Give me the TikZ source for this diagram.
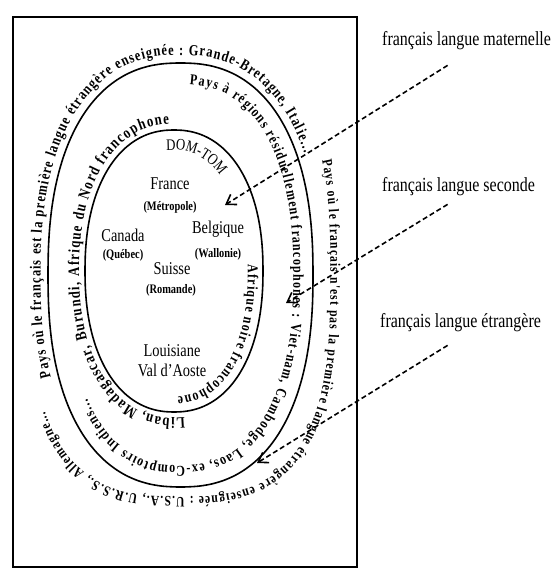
\documentclass[tikz,border=0pt]{standalone}
\usepackage{fontspec}
\setmainfont[FakeStretch=0.8]{Liberation Serif}
\newfontfamily\arcfont[FakeStretch=0.8]{Liberation Serif}
\usepackage{tikz}
\usetikzlibrary{decorations.text}
\usetikzlibrary{arrows.meta}
\newcommand{\arctype}[1]{\arcfont\bfseries\fontsize{#1}{#1}\selectfont}

\begin{document}
\begin{tikzpicture}[x=1pt,y=1pt,
  declare function={sx(\s,\q)=cos(\s)*exp((\q-1)*ln(abs(cos(\s))+0.0001));
                    sy(\s,\q)=sin(\s)*exp((\q-1)*ln(abs(sin(\s))+0.0001));}]
\tikzstyle{ring}=[line width=1.6pt]
\tikzstyle{place}=[inner sep=0pt,font=\fontsize{18}{20}\selectfont]
\tikzstyle{region}=[inner sep=0pt,font=\fontsize{13}{15}\selectfont\bfseries]
\tikzstyle{usage}=[inner sep=0pt,anchor=west,font=\fontsize{20}{22}\selectfont]
\tikzstyle{pointer}=[line width=1.6pt,dash pattern=on 5pt off 3pt,-{Straight Barb[length=9pt,width=12pt]}]
\tikzstyle{arctext}=[decorate,decoration={text along path,text align={fit to path}}]
\useasboundingbox (0,0) rectangle (557,575);
\draw[line width=1.2pt] (13,8) rectangle (357,558);
\draw[ring] plot[smooth cycle,domain=0:355,samples=72] ({180.5+132.5*sx(\x,0.85)},{300+212*sy(\x,0.85)});
\draw[ring] plot[smooth cycle,domain=0:355,samples=72] ({174+89*sx(\x,0.9)},{304+141*sy(\x,0.9)});
\path[arctext,decoration={text={|\arctype{15.5}|Pays où le français est la première langue étrangère enseignée : Grande-Bretagne, Italie...}}]
  plot[domain=-204:-30,samples=70] ({180.5+140*sx(-\x,0.85)},{300+220*sy(-\x,0.85)});
\path[arctext,decoration={text={|\arctype{14.5}|Pays où le français n'est pas la première langue étrangère enseignée : U.S.A., U.R.S.S., Allemagne...}}]
  plot[domain=-23:150,samples=70] ({180.5+150*sx(-\x,0.7)},{300+222*sy(-\x,0.7)});
\path[arctext,decoration={text={|\arctype{15}|Pays à régions résiduellement francophones : Viet-nam, Cambodge, Laos, ex-Comptoirs Indiens...}}]
  plot[domain=-87:143,samples=70] ({180.5+113*sx(-\x,0.85)},{300+191*sy(-\x,0.85)});
\path[arctext,decoration={text={|\arctype{16}|Liban, Madagascar, Burundi, Afrique du Nord francophone}}]
  plot[domain=85:268,samples=50] ({174+95*sx(-\x,0.9)},{304+147*sy(-\x,0.9)});
\path[arctext,decoration={text={|\arctype{15}|Afrique noire francophone}}]
  plot[domain=-2:88,samples=30] ({174+74*sx(-\x,0.9)},{304+126*sy(-\x,0.9)});
\path[decorate,decoration={text along path,text={|\fontsize{16}{18}\selectfont|DOM-TOM}}]
  plot[domain=-95:-20,samples=30] ({174+69*sx(-\x,0.9)},{304+121*sy(-\x,0.9)});
\node[place] at (170,391) (fr) {France};
\node[region] at (170,368) (frs) {(Métropole)};
\node[place] at (123,340) (ca) {Canada};
\node[region] at (123,320) (cas) {(Québec)};
\node[place] at (218,346) (be) {Belgique};
\node[region] at (218,321) (bes) {(Wallonie)};
\node[place] at (172,306) (su) {Suisse};
\node[region] at (171,285) (sus) {(Romande)};
\node[place,align=center] at (172,214) (lo) {Louisiane\\Val d'Aoste};
\node[usage] at (382,534) (mat) {français langue maternelle};
\node[usage] at (382,388) (sec) {français langue seconde};
\node[usage] at (380,252) (etr) {français langue étrangère};
\coordinate (matend) at (225,370);
\coordinate (secend) at (286,272);
\coordinate (etrend) at (257,112);
\draw[pointer] (mat.south) ++(-19,-15) -- (matend);
\draw[pointer] (sec.south) ++(-11,-8) -- (secend);
\draw[pointer] (etr.south) ++(-13,-13) -- (etrend);
\end{tikzpicture}
\end{document}
